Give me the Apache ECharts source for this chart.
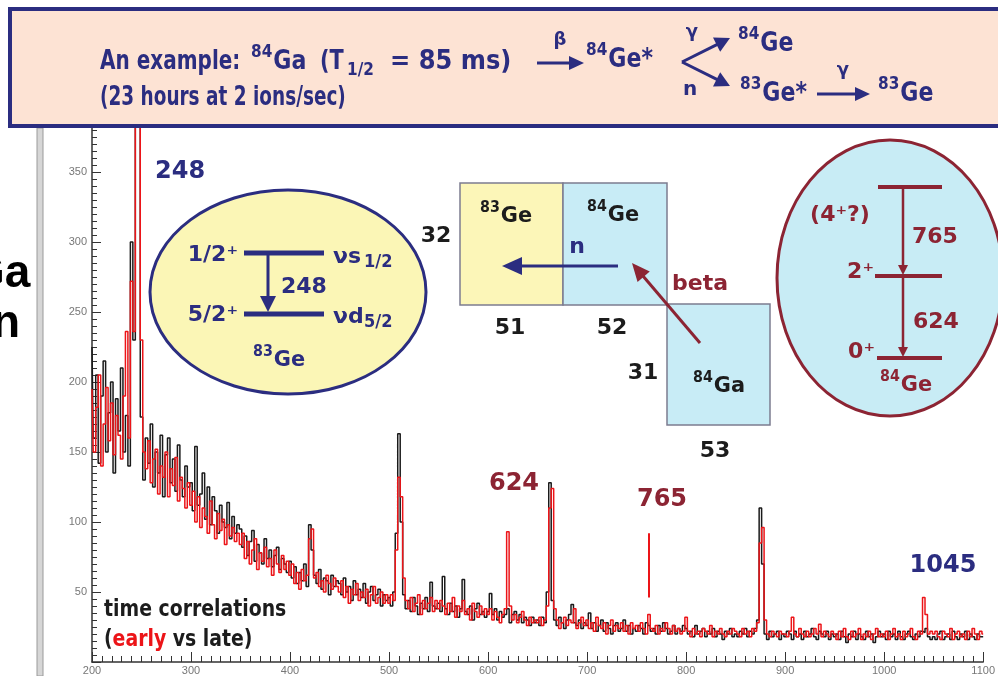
<!DOCTYPE html>
<html>
<head>
<meta charset="utf-8">
<title>84Ga example</title>
<script src="https://cdn.jsdelivr.net/npm/echarts/dist/echarts.min.js"></script>
<style>
  html, body { margin: 0; padding: 0; background: #fff; }
  #chart { width: 998px; height: 676px; }
</style>
</head>
<body>
<div id="chart"></div>
<script>
// gamma spectrum, 2.5 keV bins starting at 200 keV (20 bins per row = 50 keV)
var binStart = 200;
var binWidth = 2.5;

// black trace (late)
var lateCounts = [
  225, 160, 205, 142, 190, 215, 150, 178, 200, 135, 188, 165, 210, 150, 176, 140, 300, 230, 520, 480,
  175, 130, 160, 142, 170, 125, 150, 135, 162, 118, 148, 160, 128, 145, 122, 155, 130, 118, 140, 125,
  128, 108, 154, 112, 120, 135, 102, 125, 98, 118, 108, 92, 112, 100, 96, 114, 88, 104, 92, 98,
  95, 82, 90, 76, 86, 94, 72, 84, 78, 70, 88, 74, 80, 68, 76, 82, 66, 74, 70, 64,
  72, 60, 68, 56, 64, 58, 70, 54, 98, 80, 62, 56, 66, 52, 60, 58, 48, 62, 54, 58,
  56, 48, 60, 50, 54, 44, 58, 48, 52, 46, 56, 42, 50, 54, 44, 48, 52, 40, 48, 44,
  46, 40, 50, 92, 163, 100, 48, 38, 44, 36, 46, 40, 34, 42, 38, 46, 36, 57, 40, 38,
  42, 36, 61, 38, 34, 42, 36, 40, 32, 38, 59, 36, 34, 40, 30, 38, 42, 34, 36, 32,
  36, 49, 34, 38, 30, 36, 32, 34, 38, 28, 34, 36, 30, 34, 28, 32, 30, 26, 32, 28,
  30, 26, 32, 28, 50, 128, 44, 30, 26, 32, 28, 24, 30, 34, 41, 28, 26, 30, 24, 28,
  26, 35, 24, 28, 22, 26, 30, 22, 28, 24, 20, 26, 28, 22, 24, 30, 22, 26, 20, 24,
  22, 26, 24, 20, 28, 26, 22, 24, 20, 26, 22, 28, 24, 20, 22, 26, 20, 24, 22, 26,
  24, 20, 22, 18, 26, 20, 22, 24, 18, 22, 20, 24, 18, 22, 20, 16, 22, 20, 24, 18,
  20, 18, 22, 20, 24, 18, 22, 20, 24, 30, 110, 70, 20, 16, 22, 18, 20, 22, 16, 20,
  18, 22, 20, 16, 22, 18, 20, 16, 22, 18, 20, 24, 18, 16, 22, 20, 18, 22, 16, 20,
  18, 20, 16, 22, 18, 14, 20, 18, 22, 16, 20, 18, 16, 22, 18, 20, 14, 18, 22, 18,
  20, 16, 22, 18, 20, 16, 22, 18, 16, 20, 22, 18, 16, 20, 18, 22, 21, 24, 18, 16,
  18, 16, 20, 22, 16, 18, 20, 16, 22, 18, 16, 20, 18, 22, 16, 20, 18, 16, 20, 18,
  18
];

// red trace (early)
var earlyCounts = [
  195, 150, 182, 205, 140, 170, 196, 158, 185, 148, 176, 162, 145, 190, 236, 160, 272, 236, 520, 500,
  230, 150, 138, 158, 128, 145, 152, 120, 140, 132, 150, 118, 138, 126, 146, 115, 132, 124, 110, 128,
  112, 122, 100, 118, 96, 110, 104, 92, 115, 98, 88, 106, 94, 102, 84, 98, 90, 96, 86, 92,
  84, 92, 74, 86, 70, 80, 88, 66, 78, 72, 82, 68, 74, 62, 80, 70, 64, 76, 66, 72,
  62, 70, 56, 64, 52, 66, 58, 62, 88, 95, 60, 64, 54, 58, 50, 62, 56, 52, 60, 54,
  50, 58, 46, 54, 42, 52, 48, 56, 44, 50, 46, 52, 40, 48, 54, 42, 46, 50, 42, 48,
  42, 48, 44, 80, 132, 118, 60, 44, 38, 46, 36, 42, 48, 34, 44, 38, 42, 46, 36, 44,
  38, 44, 40, 34, 42, 36, 46, 32, 40, 36, 44, 34, 38, 30, 42, 36, 32, 40, 34, 38,
  34, 38, 30, 36, 32, 28, 34, 38, 93, 40, 30, 34, 28, 32, 36, 30, 26, 32, 28, 30,
  28, 32, 26, 30, 40, 110, 124, 38, 30, 24, 28, 32, 26, 30, 28, 38, 24, 28, 32, 26,
  30, 24, 28, 22, 32, 26, 24, 28, 20, 26, 30, 22, 26, 24, 28, 22, 26, 20, 28, 24,
  26, 22, 28, 24, 20, 34, 24, 22, 26, 20, 24, 22, 28, 24, 20, 26, 22, 24, 20, 22,
  32, 22, 18, 24, 20, 22, 18, 24, 22, 20, 26, 18, 22, 20, 24, 20, 18, 22, 20, 24,
  22, 20, 18, 24, 20, 22, 18, 24, 22, 28, 85, 96, 30, 20, 18, 22, 20, 18, 22, 20,
  20, 18, 22, 32, 20, 18, 24, 20, 18, 22, 18, 20, 24, 20, 27, 18, 22, 20, 18, 22,
  20, 16, 22, 18, 24, 18, 16, 22, 18, 20, 24, 16, 20, 18, 22, 16, 20, 24, 18, 20,
  18, 22, 16, 20, 24, 18, 20, 16, 22, 18, 20, 24, 18, 16, 22, 20, 46, 34, 20, 22,
  20, 22, 18, 16, 22, 20, 18, 24, 16, 20, 22, 18, 20, 16, 22, 18, 24, 20, 16, 22,
  20
];

// the little red marker drawn at 765
var markerEnergy = 762;
var markerRange = [46, 92];

var NAVY = '#2b2d80', WINE = '#8c2433', INK = '#1c1c1c', RED = '#ec1418';
var FONT = '"DejaVu Sans", sans-serif';

function toPairs(arr) {
  return arr.map(function (v, i) { return [binStart + i * binWidth, v]; });
}

function label(x, y, text, size, color, align, sx) {
  return {
    type: 'text', x: x, y: y, z: 100, scaleX: sx || 1,
    style: {
      text: text, font: 'bold ' + size + 'px ' + FONT, fill: color,
      textAlign: align || 'left', textVerticalAlign: 'middle'
    }
  };
}
// nuclide name with raised mass number
function nuc(x, y, mass, sym, size, color, align, sx) {
  sx = sx || 1;
  var ss = Math.round(size * 0.7);
  var mw = mass.length * 0.696 * ss * sx;
  var sw = sym.length * 0.72 * size * sx;
  var x0 = align === 'center' ? x - (mw + sw) / 2 : x;
  return [
    label(x0, y - size * 0.36, mass, ss, color, 'left', sx),
    label(x0 + mw + 1, y, sym, size, color, 'left', sx)
  ];
}
function seg(x1, y1, x2, y2, color, w) {
  return { type: 'line', z: 100, shape: { x1: x1, y1: y1, x2: x2, y2: y2 },
    style: { stroke: color, lineWidth: w } };
}
function arrow(x1, y1, x2, y2, color, w, hl, hw) {
  var dx = x2 - x1, dy = y2 - y1, len = Math.sqrt(dx * dx + dy * dy);
  var ux = dx / len, uy = dy / len;
  var bx = x2 - ux * hl, by = y2 - uy * hl;
  return [
    seg(x1, y1, bx + ux * 2, by + uy * 2, color, w),
    { type: 'polygon', z: 100,
      shape: { points: [[x2, y2], [bx - uy * hw, by + ux * hw], [bx + uy * hw, by - ux * hw]] },
      style: { fill: color } }
  ];
}

var els = [];
// left frame of the slide and cut-off text
els.push({ type: 'rect', z: 90, shape: { x: 37, y: 128, width: 6, height: 548 },
  style: { fill: '#d6d6d6', stroke: '#9a9a9a', lineWidth: 1 } });
els.push({ type: 'text', x: -31, y: 297, z: 100,
  style: { text: 'Ga', font: 'bold 46px "Liberation Sans"', fill: '#000', textVerticalAlign: 'bottom' } });
els.push({ type: 'text', x: -8, y: 347, z: 100,
  style: { text: 'n', font: 'bold 46px "Liberation Sans"', fill: '#000', textVerticalAlign: 'bottom' } });

// header box
els.push({ type: 'rect', z: 95, shape: { x: 10, y: 9, width: 1000, height: 117 },
  style: { fill: '#fde3d4', stroke: NAVY, lineWidth: 4 } });
els.push(label(100, 62, 'An example:', 26, NAVY, 'left', 0.77));
els = els.concat(nuc(251, 62, '84', 'Ga', 26, NAVY, 'left', 0.85));
els.push(label(320, 62, '(T', 26, NAVY, 'left', 0.8));
els.push(label(347, 70, '1/2', 18, NAVY, 'left', 0.85));
els.push(label(390, 62, '= 85 ms)', 26, NAVY, 'left', 0.93));
els.push(label(100, 98, '(23 hours at 2 ions/sec)', 26, NAVY, 'left', 0.71));
els = els.concat(arrow(537, 63, 584, 63, NAVY, 3, 15, 7));
els.push(label(560, 40, '\u03b2', 18, NAVY, 'center'));
els = els.concat(nuc(586, 60, '84', 'Ge*', 26, NAVY, 'left', 0.85));
els = els.concat(arrow(682, 62, 730, 38, NAVY, 3, 15, 8));
els = els.concat(arrow(682, 62, 730, 86, NAVY, 3, 15, 8));
els.push(label(692, 32, '\u03b3', 18, NAVY, 'center'));
els.push(label(690, 90, 'n', 20, NAVY, 'center'));
els = els.concat(nuc(738, 44, '84', 'Ge', 26, NAVY, 'left', 0.85));
els = els.concat(nuc(740, 94, '83', 'Ge*', 26, NAVY, 'left', 0.85));
els = els.concat(arrow(817, 94, 870, 94, NAVY, 3, 15, 7));
els.push(label(843, 70, '\u03b3', 18, NAVY, 'center'));
els = els.concat(nuc(878, 94, '83', 'Ge', 26, NAVY, 'left', 0.85));

// 83Ge level scheme
els.push({ type: 'ellipse', z: 96, shape: { cx: 288, cy: 292, rx: 138, ry: 102 },
  style: { fill: '#fbf6b6', stroke: NAVY, lineWidth: 3 } });
els.push(seg(244, 253, 324, 253, NAVY, 5));
els.push(seg(244, 314, 324, 314, NAVY, 5));
els = els.concat(arrow(268, 253, 268, 312, NAVY, 3, 16, 8));
els.push(label(238, 255, '1/2\u207a', 22, NAVY, 'right'));
els.push(label(238, 315, '5/2\u207a', 22, NAVY, 'right'));
els.push(label(333, 257, '\u03bds', 22, NAVY, 'left'));
els.push(label(364, 262, '1/2', 18, NAVY, 'left', 0.9));
els.push(label(333, 317, '\u03bdd', 22, NAVY, 'left'));
els.push(label(364, 322, '5/2', 18, NAVY, 'left', 0.9));
els.push(label(281, 287, '248', 22, NAVY, 'left'));
els = els.concat(nuc(278, 360, '83', 'Ge', 22, NAVY, 'center', 0.95));
els.push(label(155, 172, '248', 24, NAVY, 'left'));

// chart of nuclides piece
els.push({ type: 'rect', z: 96, shape: { x: 460, y: 183, width: 103, height: 122 },
  style: { fill: '#fcf6b8', stroke: '#7c7c90', lineWidth: 1.5 } });
els.push({ type: 'rect', z: 96, shape: { x: 563, y: 183, width: 104, height: 122 },
  style: { fill: '#c8ecf6', stroke: '#7c7c90', lineWidth: 1.5 } });
els.push({ type: 'rect', z: 96, shape: { x: 667, y: 304, width: 103, height: 121 },
  style: { fill: '#c8ecf6', stroke: '#7c7c90', lineWidth: 1.5 } });
els = els.concat(nuc(505, 216, '83', 'Ge', 22, INK, 'center', 0.95));
els = els.concat(nuc(612, 215, '84', 'Ge', 22, INK, 'center', 0.95));
els = els.concat(nuc(718, 386, '84', 'Ga', 22, INK, 'center', 0.95));
els.push(label(577, 247, 'n', 22, NAVY, 'center'));
els = els.concat(arrow(618, 266, 502, 266, NAVY, 3, 20, 9));
els = els.concat(arrow(700, 343, 632, 263, WINE, 3, 18, 8));
els.push(label(672, 284, 'beta', 22, WINE, 'left'));
els.push(label(510, 328, '51', 22, INK, 'center'));
els.push(label(612, 328, '52', 22, INK, 'center'));
els.push(label(715, 451, '53', 22, INK, 'center'));
els.push(label(643, 373, '31', 22, INK, 'center'));
els.push(label(436, 236, '32', 22, INK, 'center'));

// 84Ge level scheme
els.push({ type: 'ellipse', z: 96, shape: { cx: 890, cy: 278, rx: 113, ry: 138 },
  style: { fill: '#c8ecf5', stroke: WINE, lineWidth: 3 } });
els.push(seg(878, 187, 942, 187, WINE, 4));
els.push(seg(875, 276, 942, 276, WINE, 4));
els.push(seg(877, 358, 942, 358, WINE, 4));
els = els.concat(arrow(903, 187, 903, 275, WINE, 2.5, 10, 5));
els = els.concat(arrow(903, 277, 903, 357, WINE, 2.5, 10, 5));
els.push(label(840, 215, '(4\u207a?)', 22, WINE, 'center'));
els.push(label(912, 237, '765', 22, WINE, 'left'));
els.push(label(874, 272, '2\u207a', 22, WINE, 'right'));
els.push(label(913, 322, '624', 22, WINE, 'left'));
els.push(label(875, 352, '0\u207a', 22, WINE, 'right'));
els = els.concat(nuc(905, 385, '84', 'Ge', 22, WINE, 'center', 0.95));

// peak labels
els.push(label(514, 484, '624', 24, WINE, 'center'));
els.push(label(662, 500, '765', 24, WINE, 'center'));
els.push(label(943, 566, '1045', 24, NAVY, 'center'));

// legend text
els.push(label(104, 610, 'time correlations', 23, INK, 'left', 0.82));
els.push({ type: 'text', x: 104, y: 640, z: 100, scaleX: 0.82,
  style: {
    text: '{k|(}{r|early}{k| vs late)}', textVerticalAlign: 'middle',
    rich: {
      k: { font: 'bold 23px ' + FONT, fill: INK },
      r: { font: 'bold 23px ' + FONT, fill: RED }
    }
  } });

var chart = echarts.init(document.getElementById('chart'));
chart.setOption({
  animation: false,
  backgroundColor: '#fff',
  grid: { left: 92, right: -7, top: 102, bottom: 14 },
  xAxis: {
    type: 'value', min: 200, max: 1100, interval: 100,
    axisLine: { lineStyle: { color: '#333', width: 1.5 } },
    axisTick: { inside: true, length: 10, lineStyle: { color: '#333' } },
    minorTick: { show: true, splitNumber: 10, length: 6, lineStyle: { color: '#333' } },
    axisLabel: { color: '#777', fontSize: 11, margin: 3, fontFamily: 'Liberation Sans',
      formatter: function (v) { return String(v); } },
    splitLine: { show: false }
  },
  yAxis: {
    type: 'value', min: 0, max: 400, interval: 50,
    axisLine: { show: true, lineStyle: { color: '#333', width: 1.5 } },
    axisTick: { show: true, inside: true, length: 9, lineStyle: { color: '#333' } },
    minorTick: { show: true, splitNumber: 10, length: 5, lineStyle: { color: '#333' } },
    axisLabel: { color: '#777', fontSize: 11, margin: 5, fontFamily: 'Liberation Sans', showMinLabel: false },
    splitLine: { show: false }
  },
  series: [
    {
      name: 'late', type: 'line', step: 'middle', data: toPairs(lateCounts),
      symbol: 'none', silent: true, z: 2,
      lineStyle: { color: '#1a1a1a', width: 1.5 }
    },
    {
      name: 'early', type: 'line', step: 'middle', data: toPairs(earlyCounts),
      symbol: 'none', silent: true, z: 3,
      lineStyle: { color: RED, width: 1.5 },
      markLine: {
        silent: true, symbol: 'none', label: { show: false },
        lineStyle: { color: RED, width: 2, type: 'solid' },
        data: [[{ coord: [markerEnergy, markerRange[0]] }, { coord: [markerEnergy, markerRange[1]] }]]
      }
    }
  ],
  graphic: { elements: els }
});
</script>
</body>
</html>
